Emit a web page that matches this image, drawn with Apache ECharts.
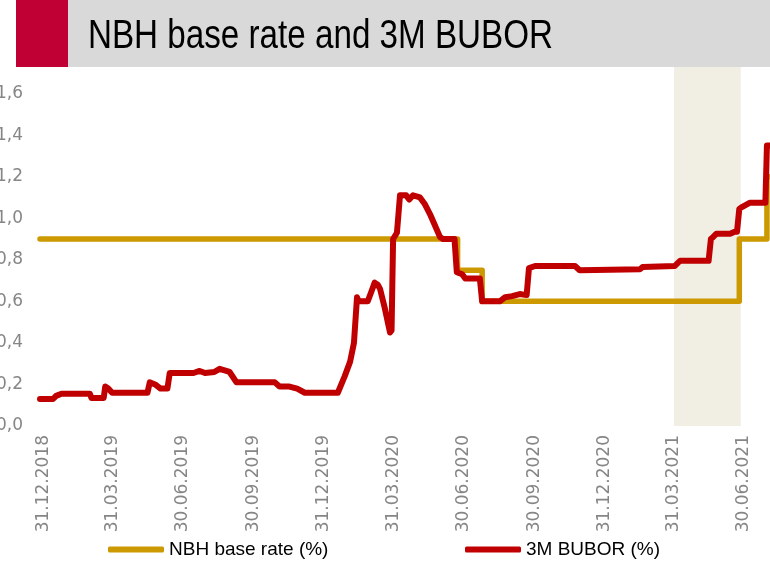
<!DOCTYPE html>
<html><head><meta charset="utf-8">
<script src="https://cdn.jsdelivr.net/npm/echarts@6/dist/echarts.min.js"></script>
<style>html,body{margin:0;padding:0;background:#fff}#c{width:770px;height:577px}</style>
</head><body><div id="c"></div>
<script>
// ---- data ----
const tickDates = ['2018-12-31','2019-03-31','2019-06-30','2019-09-30','2019-12-31','2020-03-31',
  '2020-06-30','2020-09-30','2020-12-31','2021-03-31','2021-06-30'];

const buborDates = ['2018-12-26','2019-01-12','2019-01-16','2019-01-23','2019-03-01','2019-03-03','2019-03-19',
  '2019-03-21','2019-03-25','2019-03-30','2019-05-15','2019-05-18','2019-05-25','2019-06-01','2019-06-10',
  '2019-06-13','2019-07-14','2019-07-22','2019-07-29','2019-08-10','2019-08-17','2019-08-30','2019-09-08',
  '2019-10-28','2019-11-03','2019-11-16','2019-11-26','2019-12-06','2020-01-18','2020-01-27','2020-02-03',
  '2020-02-08','2020-02-12','2020-02-14','2020-02-26','2020-03-02','2020-03-06','2020-03-10','2020-03-13',
  '2020-03-19','2020-03-26','2020-03-28','2020-03-30','2020-04-04','2020-04-08','2020-04-16','2020-04-20',
  '2020-04-25','2020-05-04','2020-05-10','2020-05-17','2020-05-23','2020-05-30','2020-06-03','2020-06-18',
  '2020-06-21','2020-06-28','2020-07-02','2020-07-21','2020-07-24','2020-08-16','2020-08-23','2020-09-01',
  '2020-09-11','2020-09-20','2020-09-23','2020-10-01','2020-11-22','2020-11-28','2021-02-15','2021-02-18',
  '2021-04-01','2021-04-05','2021-04-08','2021-05-15','2021-05-18','2021-05-21','2021-05-25','2021-06-12',
  '2021-06-18','2021-06-21','2021-06-24','2021-06-28','2021-07-08','2021-07-28','2021-07-30','2021-08-03'];
const buborValues = [0.13,0.13,0.145,0.155,0.155,0.135,0.135,
  0.19,0.18,0.16,0.16,0.21,0.20,0.18,0.18,
  0.255,0.255,0.265,0.255,0.26,0.275,0.26,0.21,
  0.21,0.19,0.19,0.18,0.16,0.16,0.24,0.31,
  0.40,0.62,0.60,0.60,0.65,0.69,0.68,0.66,
  0.57,0.45,0.46,0.90,0.93,1.11,1.11,1.09,
  1.11,1.10,1.07,1.02,0.97,0.91,0.90,0.90,
  0.74,0.73,0.71,0.71,0.60,0.60,0.62,0.625,
  0.635,0.63,0.76,0.77,0.77,0.75,0.755,0.765,
  0.77,0.785,0.795,0.795,0.90,0.91,0.925,0.925,
  0.935,0.935,1.045,1.055,1.075,1.075,1.35,1.35];

const baseDates = ['2018-12-26','2020-06-22','2020-07-24','2021-06-24','2021-07-30','2021-08-03'];
const baseValues = [0.90,0.75,0.60,0.90,1.20,1.20];

const shadeDates = ['2021-03-31','2021-06-26'];
const axisDates = ['2018-12-26','2021-08-03'];
const yMin = 0, yMax = 1.8, yStep = 0.2;

// ---- helpers ----
const ORIGIN = Date.UTC(2018, 11, 31);
function dayOf(s){ const [y,m,d] = s.split('-').map(Number); return Math.round((Date.UTC(y,m-1,d) - ORIGIN)/86400000); }
function pad(n){ return (n<10?'0':'') + n; }
function fmtDay(day){ const t = new Date(ORIGIN + day*86400000); return pad(t.getUTCDate())+'.'+pad(t.getUTCMonth()+1)+'.'+t.getUTCFullYear(); }

const GOLD = '#CC9900', RED = '#C00000', GRAY = '#868686';
const FONT = '"Liberation Sans"';

const chart = echarts.init(document.getElementById('c'), null, {renderer:'canvas'});
chart.setOption({
  animation: false,
  backgroundColor: '#fff',
  grid: { left: 40, right: 0, top: 52, bottom: 151, outerBoundsMode: 'none', containLabel: false },
  xAxis: {
    type: 'value', min: dayOf(axisDates[0]), max: dayOf(axisDates[1]),
    axisLine: { show: false }, axisTick: { show: false }, splitLine: { show: false },
    axisLabel: {
      customValues: tickDates.map(dayOf), rotate: 90, margin: 9, hideOverlap: false,
      formatter: v => fmtDay(v), color: GRAY, fontFamily: 'DejaVu Sans', fontSize: 17
    }
  },
  yAxis: {
    type: 'value', min: yMin, max: yMax, interval: yStep,
    axisLine: { show: false }, axisTick: { show: false }, splitLine: { show: false },
    axisLabel: {
      showMaxLabel: false, margin: 17,
      formatter: v => v.toFixed(1).replace('.', ','), color: GRAY, fontFamily: 'DejaVu Sans', fontSize: 17
    }
  },
  legend: [
    { data: ['NBH base rate (%)'], left: 108, top: 540, padding: 0, icon: 'roundRect', itemWidth: 56, itemHeight: 6,
      textStyle: { color: '#000', fontFamily: FONT, fontSize: 19 } },
    { data: ['3M BUBOR (%)'], left: 465, top: 540, padding: 0, icon: 'roundRect', itemWidth: 56, itemHeight: 6,
      textStyle: { color: '#000', fontFamily: FONT, fontSize: 19 } }
  ],
  series: [
    { type: 'line', name: 'shade', data: [], z: 1, silent: true,
      markArea: { silent: true, itemStyle: { color: '#F1EEE4' },
        data: [[{ xAxis: dayOf(shadeDates[0]) }, { xAxis: dayOf(shadeDates[1]) }]] } },
    { type: 'line', name: 'NBH base rate (%)', step: 'end', showSymbol: false, z: 2,
      data: baseDates.map((d,i) => [dayOf(d), baseValues[i]]),
      lineStyle: { color: GOLD, width: 5.5, cap: 'round', join: 'round' }, itemStyle: { color: GOLD } },
    { type: 'line', name: '3M BUBOR (%)', showSymbol: false, z: 3,
      data: buborDates.map((d,i) => [dayOf(d), buborValues[i]]),
      lineStyle: { color: RED, width: 6, cap: 'round', join: 'round' }, itemStyle: { color: RED } }
  ],
  graphic: [
    { type: 'rect', z: 100, shape: { x: 16, y: 0, width: 52, height: 67 }, style: { fill: '#C00035' } },
    { type: 'rect', z: 100, shape: { x: 68, y: 0, width: 702, height: 67 }, style: { fill: '#D9D9D9' } },
    { type: 'text', z: 101, x: 88, y: 37, scaleX: 0.83,
      style: { text: 'NBH base rate and 3M BUBOR', fill: '#000', verticalAlign: 'middle',
        font: '40px ' + FONT } }
  ]
});
</script></body></html>
